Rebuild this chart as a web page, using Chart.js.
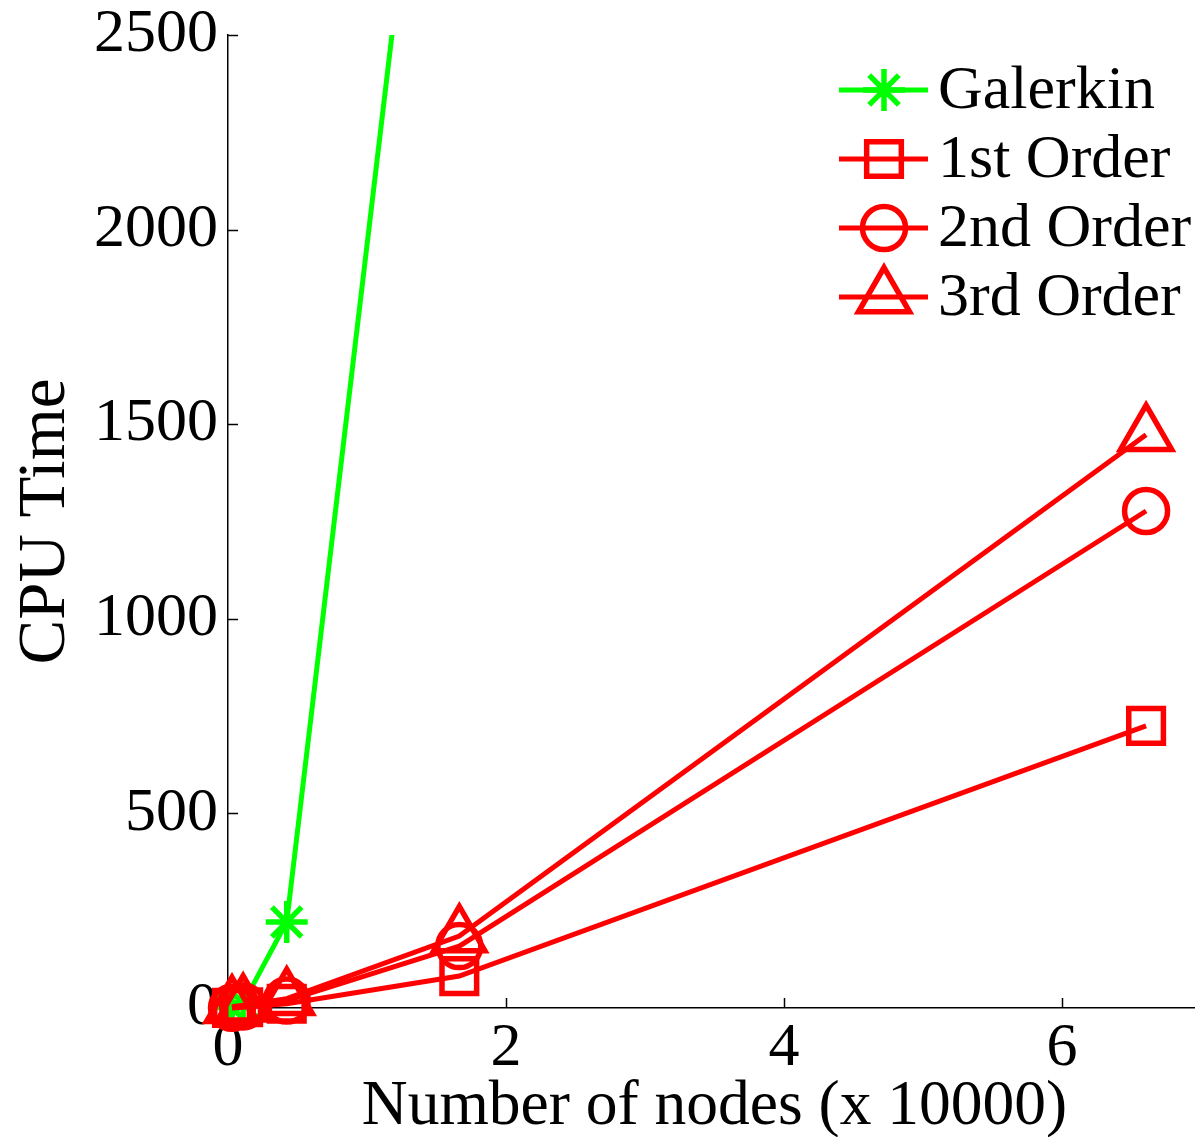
<!DOCTYPE html>
<html>
<head>
<meta charset="utf-8">
<title>CPU Time vs Number of nodes</title>
<script src="https://cdn.jsdelivr.net/npm/chart.js@4.4.1/dist/chart.umd.min.js"></script>
<style>
  html, body { margin: 0; padding: 0; background: #ffffff; overflow: hidden; }
  #wrap { width: 1236px; height: 1137px; }
</style>
</head>
<body>
<div id="wrap"><canvas id="c" width="1236" height="1137"></canvas></div>
<script>
// Grid sizes (in units of 10000 nodes): 17^2, 33^2, 65^2, 129^2, 257^2
const nodes = [0.0289, 0.1089, 0.4225, 1.6641, 6.6049];

// CPU time per method
const galerkin = [1, 12, 221, 3960];
const order1   = [0.3, 2, 11, 82, 725];
const order2   = [0.5, 4, 19, 159, 1277];
const order3   = [3, 7, 24, 185, 1473];

const seriesNames = ['Galerkin', '1st Order', '2nd Order', '3rd Order'];
const xTicks = [0, 2, 4, 6];
const yTicks = [0, 500, 1000, 1500, 2000, 2500];

const GREEN = '#00ff00';
const RED = '#ff0000';
const FONT = '"Liberation Serif", "Times New Roman", serif';
const FS = 62;

Chart.defaults.font.family = FONT;
Chart.defaults.color = '#000000';

function series(label, ys, color, style, radius, order, clip) {
  return {
    label,
    data: ys.map((y, i) => ({ x: nodes[i], y })),
    showLine: true,
    borderColor: color,
    backgroundColor: 'rgba(0,0,0,0)',
    borderWidth: 5,
    pointStyle: style,
    pointRadius: radius,
    pointHoverRadius: radius,
    pointBorderWidth: 5.5,
    pointBorderColor: color,
    pointBackgroundColor: 'rgba(0,0,0,0)',
    tension: 0,
    order,
    clip
  };
}

// Inward tick marks on the two axes
const innerTicks = {
  id: 'innerTicks',
  beforeDatasetsDraw(chart) {
    const { ctx, scales: { x, y } } = chart;
    ctx.save();
    ctx.strokeStyle = '#000000';
    ctx.lineWidth = 1.5;
    yTicks.forEach(v => {
      const py = Math.round(y.getPixelForValue(v)) + 0.5;
      ctx.beginPath(); ctx.moveTo(x.left, py); ctx.lineTo(x.left + 10, py); ctx.stroke();
    });
    xTicks.forEach(v => {
      const px = Math.round(x.getPixelForValue(v)) + 0.5;
      ctx.beginPath(); ctx.moveTo(px, y.bottom); ctx.lineTo(px, y.bottom - 10); ctx.stroke();
    });
    ctx.restore();
  }
};

// Legend: line segment with marker, then the series name
const lineLegend = {
  id: 'lineLegend',
  afterDraw(chart) {
    const ctx = chart.ctx;
    const rows = [90, 159, 228, 297];
    chart.data.datasets.forEach((ds, i) => {
      const y = rows[i];
      ctx.save();
      ctx.strokeStyle = ds.borderColor;
      ctx.lineWidth = ds.borderWidth;
      ctx.beginPath(); ctx.moveTo(839, y); ctx.lineTo(928, y); ctx.stroke();
      ctx.fillStyle = 'rgba(0,0,0,0)';
      ctx.lineWidth = ds.pointBorderWidth;
      Chart.helpers.drawPoint(ctx, {
        pointStyle: ds.pointStyle,
        radius: ds.pointRadius,
        borderWidth: ds.pointBorderWidth,
        rotation: 0
      }, 884, y);
      ctx.fillStyle = '#000000';
      ctx.font = FS + 'px ' + FONT;
      ctx.textAlign = 'left';
      ctx.textBaseline = 'middle';
      ctx.fillText(ds.label, 938, y + 2);
      ctx.restore();
    });
  }
};

new Chart(document.getElementById('c'), {
  type: 'scatter',
  data: {
    datasets: [
      series(seriesNames[0], galerkin, GREEN, 'star', 21, 4, { left: 60, bottom: 60, top: 0, right: 0 }),
      series(seriesNames[1], order1, RED, 'rect', 24.5, 3, false),
      series(seriesNames[2], order2, RED, 'circle', 21.5, 2, false),
      series(seriesNames[3], order3, RED, 'triangle', 29.5, 1, false)
    ]
  },
  options: {
    responsive: false,
    animation: false,
    events: [],
    layout: { padding: { top: 35, right: 9, left: 0, bottom: 0 } },
    plugins: {
      legend: { display: false },
      tooltip: { enabled: false }
    },
    scales: {
      x: {
        type: 'linear',
        min: 0,
        max: 7,
        afterBuildTicks: s => { s.ticks = xTicks.map(v => ({ value: v })); },
        afterFit: s => { s.height = 129; s.paddingLeft = 0; s.paddingRight = 0; },
        grid: { display: true, drawOnChartArea: false, drawTicks: false, color: 'rgba(0,0,0,0)' },
        border: { display: true, color: '#000000', width: 1.5 },
        ticks: { font: { size: FS }, color: '#000000', padding: 4, maxRotation: 0, autoSkip: false,
                 callback: v => String(v) },
        title: {
          display: true,
          text: 'Number of nodes (x 10000)',
          font: { size: 63.5 },
          color: '#000000',
          padding: { top: 0, bottom: -8 }
        }
      },
      y: {
        type: 'linear',
        min: 0,
        max: 2500,
        afterBuildTicks: s => { s.ticks = yTicks.map(v => ({ value: v })); },
        afterFit: s => { s.width = 228; s.paddingTop = 0; s.paddingBottom = 0; },
        grid: { display: true, drawOnChartArea: false, drawTicks: false, color: 'rgba(0,0,0,0)' },
        border: { display: true, color: '#000000', width: 1.5 },
        ticks: { font: { size: FS }, color: '#000000', padding: 10, callback: v => String(v) },
        title: {
          display: true,
          text: 'CPU Time',
          font: { size: 67 },
          color: '#000000',
          padding: { top: 6, bottom: 0 }
        }
      }
    }
  },
  plugins: [innerTicks, lineLegend]
});
</script>
</body>
</html>
